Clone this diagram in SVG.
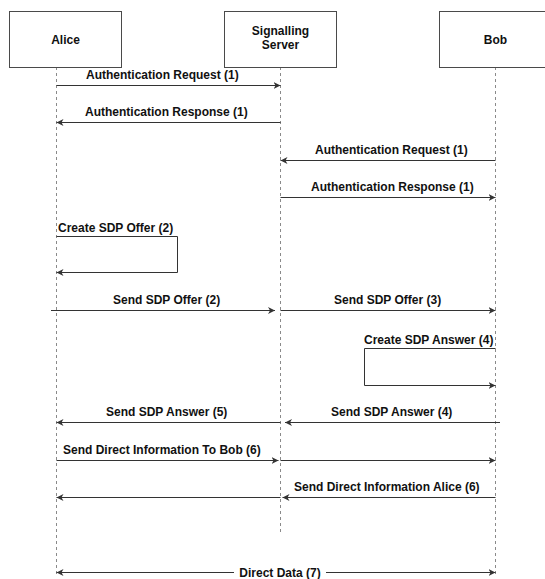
<svg xmlns="http://www.w3.org/2000/svg" width="545" height="579" viewBox="0 0 545 579">
  <style>
    .box { fill: #ffffff; stroke: #4a4a4a; stroke-width: 1; }
    .life { fill: none; stroke: #8a8a8a; stroke-width: 1; stroke-dasharray: 3 3; }
    .msg { fill: none; stroke: #333333; stroke-width: 1; marker-end: url(#arrow); }
    .name { font-family: "Liberation Sans", Arial, Helvetica, sans-serif; font-weight: bold; font-size: 12px; fill: #111111; text-anchor: middle; }
    .lbl { font-family: "Liberation Sans", Arial, Helvetica, sans-serif; font-weight: bold; font-size: 12px; fill: #111111; }
  </style>
  <defs>
    <marker id="arrow" markerUnits="userSpaceOnUse" markerWidth="10" markerHeight="10" refX="7" refY="4" orient="auto-start-reverse">
      <path d="M0,0.5 L7,4 L0,7.5 L2,4 Z" fill="#333333"/>
    </marker>
  </defs>
  <rect width="545" height="579" fill="#ffffff"/>

  <!-- participants with their lifelines -->
  <g id="alice">
    <line class="life" x1="56.5" y1="67" x2="56.5" y2="574"/>
    <rect class="box" x="9.5" y="11.5" width="112" height="56"/>
    <text class="name" x="65.5" y="43.5">Alice</text>
  </g>
  <g id="signalling-server">
    <line class="life" x1="280.5" y1="67" x2="280.5" y2="535"/>
    <rect class="box" x="224.5" y="11.5" width="112" height="56"/>
    <text class="name" x="280.5" y="35">Signalling</text>
    <text class="name" x="280.5" y="49">Server</text>
  </g>
  <g id="bob">
    <line class="life" x1="495.5" y1="67" x2="495.5" y2="574"/>
    <rect class="box" x="439.5" y="11.5" width="112" height="56"/>
    <text class="name" x="495.5" y="43.5">Bob</text>
  </g>

  <!-- messages -->
  <g id="connectors">
    <g id="m1">
      <line class="msg" x1="56.5" y1="85.5" x2="280.5" y2="85.5"/>
      <text class="lbl" x="86" y="79">Authentication Request (1)</text>
    </g>
    <g id="m2">
      <line class="msg" x1="280.5" y1="122.5" x2="56.5" y2="122.5"/>
      <text class="lbl" x="85" y="116">Authentication Response (1)</text>
    </g>
    <g id="m3">
      <line class="msg" x1="495.5" y1="160.5" x2="280.5" y2="160.5"/>
      <text class="lbl" x="315" y="154">Authentication Request (1)</text>
    </g>
    <g id="m4">
      <line class="msg" x1="280.5" y1="197.5" x2="495.5" y2="197.5"/>
      <text class="lbl" x="311" y="191">Authentication Response (1)</text>
    </g>
    <g id="m5">
      <path class="msg" d="M56.5,236.5 H177.5 V272.5 H56.5"/>
      <text class="lbl" x="58" y="232">Create SDP Offer (2)</text>
    </g>
    <g id="m6">
      <line class="msg" x1="51" y1="310.5" x2="275" y2="310.5"/>
      <text class="lbl" x="113" y="304">Send SDP Offer (2)</text>
    </g>
    <g id="m7">
      <line class="msg" x1="280.5" y1="310.5" x2="495.5" y2="310.5"/>
      <text class="lbl" x="334" y="304">Send SDP Offer (3)</text>
    </g>
    <g id="m8">
      <path class="msg" d="M495.5,348.5 H364.5 V385.5 H495.5"/>
      <text class="lbl" x="364" y="344">Create SDP Answer (4)</text>
    </g>
    <g id="m9">
      <line class="msg" x1="500" y1="422.5" x2="285" y2="422.5"/>
      <text class="lbl" x="331" y="416">Send SDP Answer (4)</text>
    </g>
    <g id="m10">
      <line class="msg" x1="280.5" y1="422.5" x2="56.5" y2="422.5"/>
      <text class="lbl" x="106" y="416">Send SDP Answer (5)</text>
    </g>
    <g id="m11">
      <line class="msg" x1="56.5" y1="460.5" x2="278.5" y2="460.5"/>
      <line class="msg" x1="280.5" y1="460.5" x2="495.5" y2="460.5"/>
      <text class="lbl" x="63" y="454">Send Direct Information To Bob (6)</text>
    </g>
    <g id="m12">
      <line class="msg" x1="495.5" y1="497.5" x2="282.5" y2="497.5"/>
      <line class="msg" x1="280.5" y1="497.5" x2="56.5" y2="497.5"/>
      <text class="lbl" x="294" y="491">Send Direct Information Alice (6)</text>
    </g>
    <g id="m13">
      <line class="msg" x1="56.5" y1="572.5" x2="495.5" y2="572.5" marker-start="url(#arrow)"/>
      <rect x="234" y="564" width="92" height="16" fill="#ffffff"/>
      <text class="lbl" x="280" y="577" text-anchor="middle">Direct Data (7)</text>
    </g>
  </g>
</svg>
